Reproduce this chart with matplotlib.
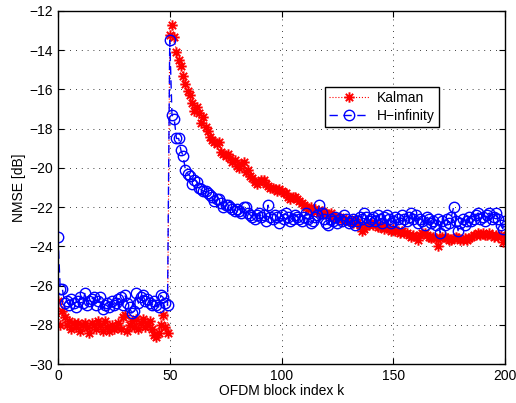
import matplotlib
matplotlib.use("Agg")
import matplotlib.pyplot as plt
from matplotlib.path import Path
import numpy as np

plt.rcParams['font.family'] = ['Liberation Sans', 'DejaVu Sans']

k = list(range(0, 201))

kalman = [
    -26.8, -28.0, -27.3, -27.6, -28.0, -27.8, -28.2, -27.9, -28.1, -27.9,
    -28.3, -28.0, -27.9, -28.1, -28.4, -27.9, -28.0, -28.2, -27.8, -28.0,
    -28.3, -27.8, -28.1, -28.3, -28.0, -28.2, -28.1, -27.9, -28.2, -27.6,
    -27.5, -28.3, -28.0, -27.8, -28.1, -27.7, -28.2, -27.9, -27.7, -28.1,
    -28.0, -27.8, -28.2, -28.5, -28.6, -28.4, -28.0, -27.5, -28.1, -28.4,
    -13.2, -12.7, -13.35, -14.1, -14.5, -14.8, -15.3, -15.7, -16.1, -16.3,
    -16.7, -17.1, -16.9, -17.2, -17.7, -17.4, -17.9, -18.1, -18.4, -18.6,
    -18.7, -18.8, -18.7, -19.2, -19.3, -19.4, -19.3, -19.5, -19.7, -19.6,
    -19.9, -20.0, -19.8, -19.7, -20.2, -20.1, -20.4, -20.5, -20.7, -20.8,
    -20.7, -20.6, -20.6, -20.8, -20.9, -21.0, -21.0, -21.1, -21.2, -21.1,
    -21.2, -21.3, -21.3, -21.5, -21.6, -21.5, -21.5, -21.6, -21.7, -21.8,
    -21.9, -22.0, -22.1, -22.0, -22.2, -22.1, -22.2, -22.3, -22.2, -22.3,
    -22.3, -22.4, -22.3, -22.5, -22.5, -22.6, -22.5, -22.6, -22.7, -22.6,
    -22.7, -22.7, -22.8, -22.6, -22.8, -22.9, -23.2, -23.1, -22.9, -22.9,
    -22.8, -22.9, -22.8, -23.0, -23.0, -22.9, -23.1, -23.0, -23.1, -23.2,
    -23.1, -23.2, -23.2, -23.3, -23.2, -23.3, -23.3, -23.4, -23.5, -23.4,
    -23.5, -23.7, -23.4, -23.3, -23.3, -23.4, -23.5, -23.6, -23.5, -23.6,
    -24.0, -23.6, -23.5, -23.5, -23.6, -23.7, -23.7, -23.6, -23.5, -23.6,
    -23.7, -23.7, -23.6, -23.7, -23.6, -23.5, -23.4, -23.4, -23.3, -23.4,
    -23.3, -23.4, -23.4, -23.3, -23.4, -23.5, -23.4, -23.5, -23.4, -23.8,
    -23.5,
]

hinf = [
    -23.5, -26.2, -26.2, -26.9, -26.8, -27.0, -26.7, -26.9, -27.1, -26.8,
    -26.6, -26.9, -26.4, -27.0, -26.8, -26.7, -26.6, -27.0, -26.8, -26.6,
    -27.2, -27.0, -26.9, -27.1, -26.8, -27.0, -26.9, -26.7, -26.6, -27.0,
    -26.5, -26.9, -27.1, -27.4, -27.3, -26.4, -26.9, -26.6, -26.5, -26.8,
    -26.7, -26.9, -27.0, -26.8, -27.0, -27.1, -26.5, -26.6, -26.9, -27.0,
    -13.5, -17.3, -17.5, -18.5, -18.5, -19.1, -19.4, -20.1, -20.3, -20.4,
    -20.8, -20.6, -20.7, -21.0, -21.1, -21.2, -21.2, -21.3, -21.4, -21.5,
    -21.7, -21.6, -21.6, -21.8, -22.0, -21.9, -21.9, -22.0, -22.1, -22.2,
    -22.1, -22.2, -22.3, -22.0, -22.0, -22.3, -22.4, -22.5, -22.6, -22.4,
    -22.3, -22.5, -22.4, -22.7, -21.9, -22.5, -22.6, -22.4, -22.5, -22.8,
    -22.4, -22.6, -22.3, -22.5, -22.7, -22.6, -22.4, -22.5, -22.6, -22.7,
    -22.5, -22.3, -22.6, -22.8, -22.7, -22.5, -22.4, -21.9, -22.3, -22.6,
    -22.8, -22.9, -22.6, -22.7, -22.5, -22.8, -22.6, -22.7, -22.4, -22.6,
    -22.8, -22.7, -22.6, -22.9, -22.7, -22.5, -22.6, -22.3, -22.5, -22.7,
    -22.6, -22.5, -22.7, -22.4, -22.6, -22.8, -22.5, -22.4, -22.6, -22.8,
    -22.7, -22.5, -22.6, -22.8, -22.4, -22.6, -22.7, -22.5, -22.3, -22.6,
    -22.4, -22.8, -22.6, -22.7, -22.9, -22.5, -22.6, -22.8, -22.7, -22.9,
    -22.6, -23.3, -22.7, -22.9, -22.6, -22.8, -22.5, -22.0, -22.7, -23.2,
    -22.8, -22.6, -22.9, -22.7, -22.5, -22.7, -22.6, -22.4, -22.3, -22.6,
    -22.5, -22.7, -22.4, -22.3, -22.6, -22.5, -22.3, -22.6, -22.9, -23.1,
    -22.7,
]

xticks = [0, 50, 100, 150, 200]
yticks = list(range(-30, -11, 2))

# MATLAB-style asterisk marker (8 spokes)
verts, codes = [], []
for ang in np.arange(0, np.pi, np.pi / 4):
    c, s = np.cos(ang), np.sin(ang)
    verts += [(-c, -s), (c, s)]
    codes += [Path.MOVETO, Path.LINETO]
asterisk = Path(verts, codes)

fig = plt.figure(figsize=(5.16, 4.03), dpi=100)
ax = fig.add_axes([58/516, 1-364/403, 447/516, 353/403])

ax.plot(k, kalman, linestyle=':', color='red', marker=asterisk, markersize=7.5,
        markeredgecolor='red', markeredgewidth=1.4, linewidth=0.8, label='Kalman')
ax.plot(k, hinf, linestyle='--', color='blue', marker='o', markersize=7.5,
        markerfacecolor='none', markeredgecolor='blue', markeredgewidth=1.0,
        linewidth=1.0, dashes=(6, 4), label='H\u2212infinity')

ax.set_xlim(0, 200)
ax.set_ylim(-30, -12)
ax.set_xticks(xticks)
ax.set_yticks(yticks)
ax.tick_params(direction='in', top=True, right=True, labelsize=10, length=4)
ax.grid(True, linestyle=(0, (1, 6)), color='black', linewidth=0.6)
for s in ax.spines.values():
    s.set_linewidth(1.0)

ax.set_xlabel('OFDM block index k', fontsize=10, labelpad=1)
ax.set_ylabel('NMSE [dB]', fontsize=10, labelpad=2)

leg = ax.legend(loc='upper left', bbox_to_anchor=(0.597, 0.785), fontsize=10,
                frameon=True, fancybox=False, edgecolor='black', framealpha=1,
                handlelength=2.9, borderpad=0.3, labelspacing=0.3,
                handletextpad=0.55, borderaxespad=0.0)
leg.get_frame().set_linewidth(1.0)

fig.savefig('out.png', dpi=100)
